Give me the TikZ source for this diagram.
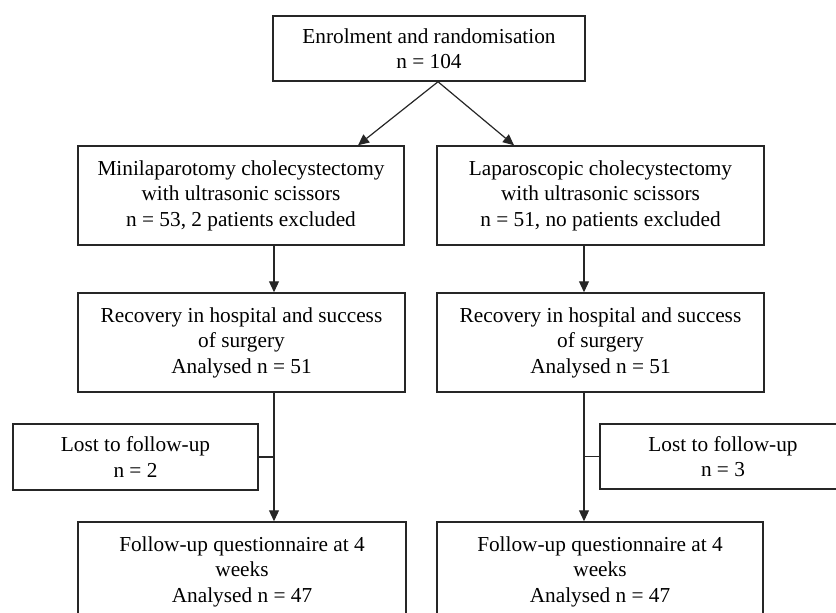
\documentclass[tikz,border=0pt]{standalone}
\usepackage{fontspec}
\setmainfont{Liberation Serif}
\usetikzlibrary{arrows.meta}
\begin{document}
\begin{tikzpicture}[x=1pt,y=-1pt,
  box/.style={draw=black!85, line width=1.5pt, inner sep=0pt, align=center,
    font=\fontsize{21.3}{25.5}\selectfont},
  conn/.style={draw=black!85, line width=1.2pt},
  arr/.style={conn,-{Triangle[length=11pt,width=10pt]}}]
\useasboundingbox (0,0) rectangle (836,613);
\clip (0,0) rectangle (836,613);
\node[box, minimum width=312pt, minimum height=65pt] (top) at (429,48.5)
  {Enrolment and randomisation\\n = 104};
\node[box, minimum width=326pt, minimum height=99pt] (l2) at (241,195.5)
  {Minilaparotomy cholecystectomy\\with ultrasonic scissors\\n = 53, 2 patients excluded};
\node[box, minimum width=327pt, minimum height=99pt] (r2) at (600.5,195.5)
  {Laparoscopic cholecystectomy\\with ultrasonic scissors\\n = 51, no patients excluded};
\node[box, minimum width=327pt, minimum height=99pt] (l3) at (241.5,342.5)
  {Recovery in hospital and success\\of surgery\\Analysed n = 51};
\node[box, minimum width=327pt, minimum height=99pt] (r3) at (600.5,342.5)
  {Recovery in hospital and success\\of surgery\\Analysed n = 51};
\node[box, minimum width=245pt, minimum height=66pt] (lostl) at (135.5,457)
  {Lost to follow-up\\n = 2};
\node[box, minimum width=246pt, minimum height=65pt] (lostr) at (723,456.5)
  {Lost to follow-up\\n = 3};
\node[box, minimum width=328pt, minimum height=99pt] (l4) at (242,571.5)
  {Follow-up questionnaire at 4\\weeks\\Analysed n = 47};
\node[box, minimum width=326pt, minimum height=99pt] (r4) at (600,571.5)
  {Follow-up questionnaire at 4\\weeks\\Analysed n = 47};
\coordinate (lx) at (274,0);
\coordinate (rx) at (584,0);
\draw[arr] ([xshift=9pt]top.south) -- ([xshift=117pt]l2.north);
\draw[arr] ([xshift=9pt]top.south) -- ([xshift=-86.5pt]r2.north);
\draw[arr] (l2.south -| lx) -- (l3.north -| lx);
\draw[arr] (l3.south -| lx) -- (l4.north -| lx);
\draw[arr] (r2.south -| rx) -- (r3.north -| rx);
\draw[arr] (r3.south -| rx) -- (r4.north -| rx);
\draw[conn] (lostl.east) -- (lostl.east -| lx);
\draw[conn] (lostr.west) -- (lostr.west -| rx);
\end{tikzpicture}
\end{document}
